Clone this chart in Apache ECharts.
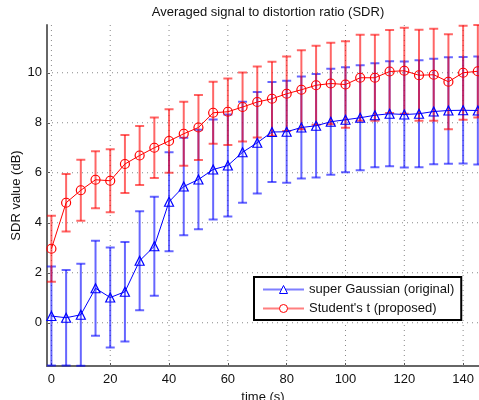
<!DOCTYPE html>
<html>
<head>
<meta charset="utf-8">
<script src="https://cdn.jsdelivr.net/npm/echarts@6/dist/echarts.min.js"></script>
<style>html,body{margin:0;padding:0;background:#fff;}#c{width:479px;height:400px;}</style>
</head>
<body>
<div id="c"></div>
<script>
var titleText = 'Averaged signal to distortion ratio (SDR)';
var xName = 'time (s)';
var yName = 'SDR value (dB)';
var times = [0,5,10,15,20,25,30,35,40,45,50,55,60,65,70,75,80,85,90,95,100,105,110,115,120,125,130,135,140,145];
var gaussName = 'super Gaussian (original)';
var gaussMean = [0.27,0.2,0.32,1.38,1.01,1.24,2.48,3.06,4.84,5.45,5.73,6.13,6.29,6.82,7.2,7.63,7.64,7.81,7.88,8.04,8.12,8.2,8.3,8.36,8.33,8.36,8.45,8.49,8.5,8.49];
var gaussErr  = [1.98,1.91,2.04,1.9,2.0,1.99,1.98,1.98,1.98,1.95,1.99,2.0,2.04,2.02,2.03,2.0,2.04,2.04,2.07,2.12,2.1,2.1,2.08,2.1,2.12,2.14,2.11,2.13,2.13,2.16];
var studName = "Student's t (proposed)";
var studMean = [2.96,4.8,5.3,5.72,5.68,6.35,6.69,7.0,7.27,7.56,7.81,8.4,8.44,8.63,8.83,8.96,9.16,9.32,9.5,9.57,9.53,9.8,9.8,10.05,10.08,9.9,9.92,9.64,10.0,10.06];
var studErr  = [1.32,1.15,1.22,1.14,1.26,1.16,1.18,1.21,1.27,1.28,1.3,1.24,1.33,1.38,1.42,1.48,1.49,1.58,1.58,1.63,1.73,1.72,1.72,1.66,1.72,1.82,1.84,1.9,1.88,1.85];
var xTicks = [0,20,40,60,80,100,120,140];
var yTicks = [0,2,4,6,8,10];

var FONT = 'Liberation Sans';
var X_MIN = -1.5, X_MAX = 145.4, Y_MIN = -1.73, Y_MAX = 11.91;
function pairs(m){ return times.map(function(t,i){ return [t, m[i]]; }); }
function errData(m,e){ return times.map(function(t,i){ return [t, m[i]-e[i], m[i]+e[i]]; }); }
function errSeries(m,e,color){
  return {
    type:'custom', silent:true, clip:false,
    data: errData(m,e),
    encode:{x:0, y:[1,2]},
    renderItem:function(params, api){
      var lo = api.coord([api.value(0), api.value(1)]);
      var hi = api.coord([api.value(0), api.value(2)]);
      var w = 4.5;
      var st = {stroke:color, lineWidth:2, opacity:0.6};
      return {type:'group', children:[
        {type:'line', shape:{x1:lo[0],y1:lo[1],x2:hi[0],y2:hi[1]}, style:st},
        {type:'line', shape:{x1:lo[0]-w,y1:lo[1],x2:lo[0]+w,y2:lo[1]}, style:st},
        {type:'line', shape:{x1:hi[0]-w,y1:hi[1],x2:hi[0]+w,y2:hi[1]}, style:st}
      ]};
    }
  };
}
var gridRecs = xTicks.map(function(v){ return [0, v]; }).concat(yTicks.map(function(v){ return [1, v]; }));
var gridSeries = {
  type:'custom', silent:true, z:1, clip:true,
  data: gridRecs,
  encode:{x:-1, y:-1},
  renderItem:function(params, api){
    var kind = api.value(0), v = api.value(1), a, b;
    if (kind === 0) { a = api.coord([v, Y_MIN]); b = api.coord([v, Y_MAX]); }
    else { a = api.coord([X_MIN, v]); b = api.coord([X_MAX, v]); }
    return {type:'line', shape:{x1:a[0],y1:a[1],x2:b[0],y2:b[1]},
      style:{stroke:'#888', lineWidth:1, lineDash:[1,4]}};
  }
};
var chart = echarts.init(document.getElementById('c'), null, {renderer:'canvas'});
var axisCommon = {
  axisLine:{show:true, onZero:false, lineStyle:{color:'#666', width:2}},
  axisTick:{show:true, inside:true, length:3, lineStyle:{color:'#555'}},
  splitLine:{show:false},
  minorTick:{show:false},
  minorSplitLine:{show:false},
  splitArea:{show:false},
  axisLabel:{color:'#111', fontSize:13, fontFamily:FONT},
  nameTextStyle:{color:'#111', fontSize:13, fontFamily:FONT}
};
chart.setOption({
  animation:false,
  backgroundColor:'#fff',
  title:{text:titleText, left:263, top:1, textAlign:'center',
    textStyle:{fontSize:13, fontWeight:'normal', color:'#111', fontFamily:FONT}},
  grid:{left:47, right:0, top:25, bottom:34, containLabel:false, outerBoundsMode:'none'},
  xAxis:Object.assign({}, axisCommon, {
    type:'value', min:X_MIN, max:X_MAX,
    name:xName, nameLocation:'middle', nameGap:24,
    axisTick:Object.assign({}, axisCommon.axisTick, {customValues:xTicks}),
    axisLabel:Object.assign({}, axisCommon.axisLabel, {customValues:xTicks, margin:7})
  }),
  yAxis:Object.assign({}, axisCommon, {
    type:'value', min:Y_MIN, max:Y_MAX,
    name:yName, nameLocation:'middle', nameGap:24, nameMoveOverlap:false,
    axisTick:Object.assign({}, axisCommon.axisTick, {customValues:yTicks}),
    axisLabel:Object.assign({}, axisCommon.axisLabel, {customValues:yTicks, margin:5})
  }),
  legend:{
    orient:'vertical', left:254, top:277,
    padding:[5,7,4,8], itemWidth:41, itemHeight:10, itemGap:4,
    backgroundColor:'#fff', borderColor:'#000', borderWidth:2, borderRadius:0,
    textStyle:{fontSize:13, color:'#111', fontFamily:FONT, lineHeight:15},
    data:[
      {name:gaussName, itemStyle:{color:'#fff', borderColor:'#0000ff', borderWidth:1}, lineStyle:{color:'#7f7fff', width:2}},
      {name:studName, itemStyle:{color:'#fff', borderColor:'#ff0000', borderWidth:1}, lineStyle:{color:'#ff7f7f', width:2}}
    ]
  },
  series:[
    gridSeries,
    errSeries(gaussMean, gaussErr, '#0000ff'),
    {type:'line', name:gaussName, data:pairs(gaussMean), symbol:'triangle', symbolSize:9,
      lineStyle:{color:'#0000ff', width:1}, itemStyle:{color:'transparent', borderColor:'#0000ff', borderWidth:1.2}},
    errSeries(studMean, studErr, '#ff0000'),
    {type:'line', name:studName, data:pairs(studMean), symbol:'circle', symbolSize:9,
      lineStyle:{color:'#ff0000', width:1}, itemStyle:{color:'transparent', borderColor:'#ff0000', borderWidth:1.2}}
  ]
});
</script>
</body>
</html>
